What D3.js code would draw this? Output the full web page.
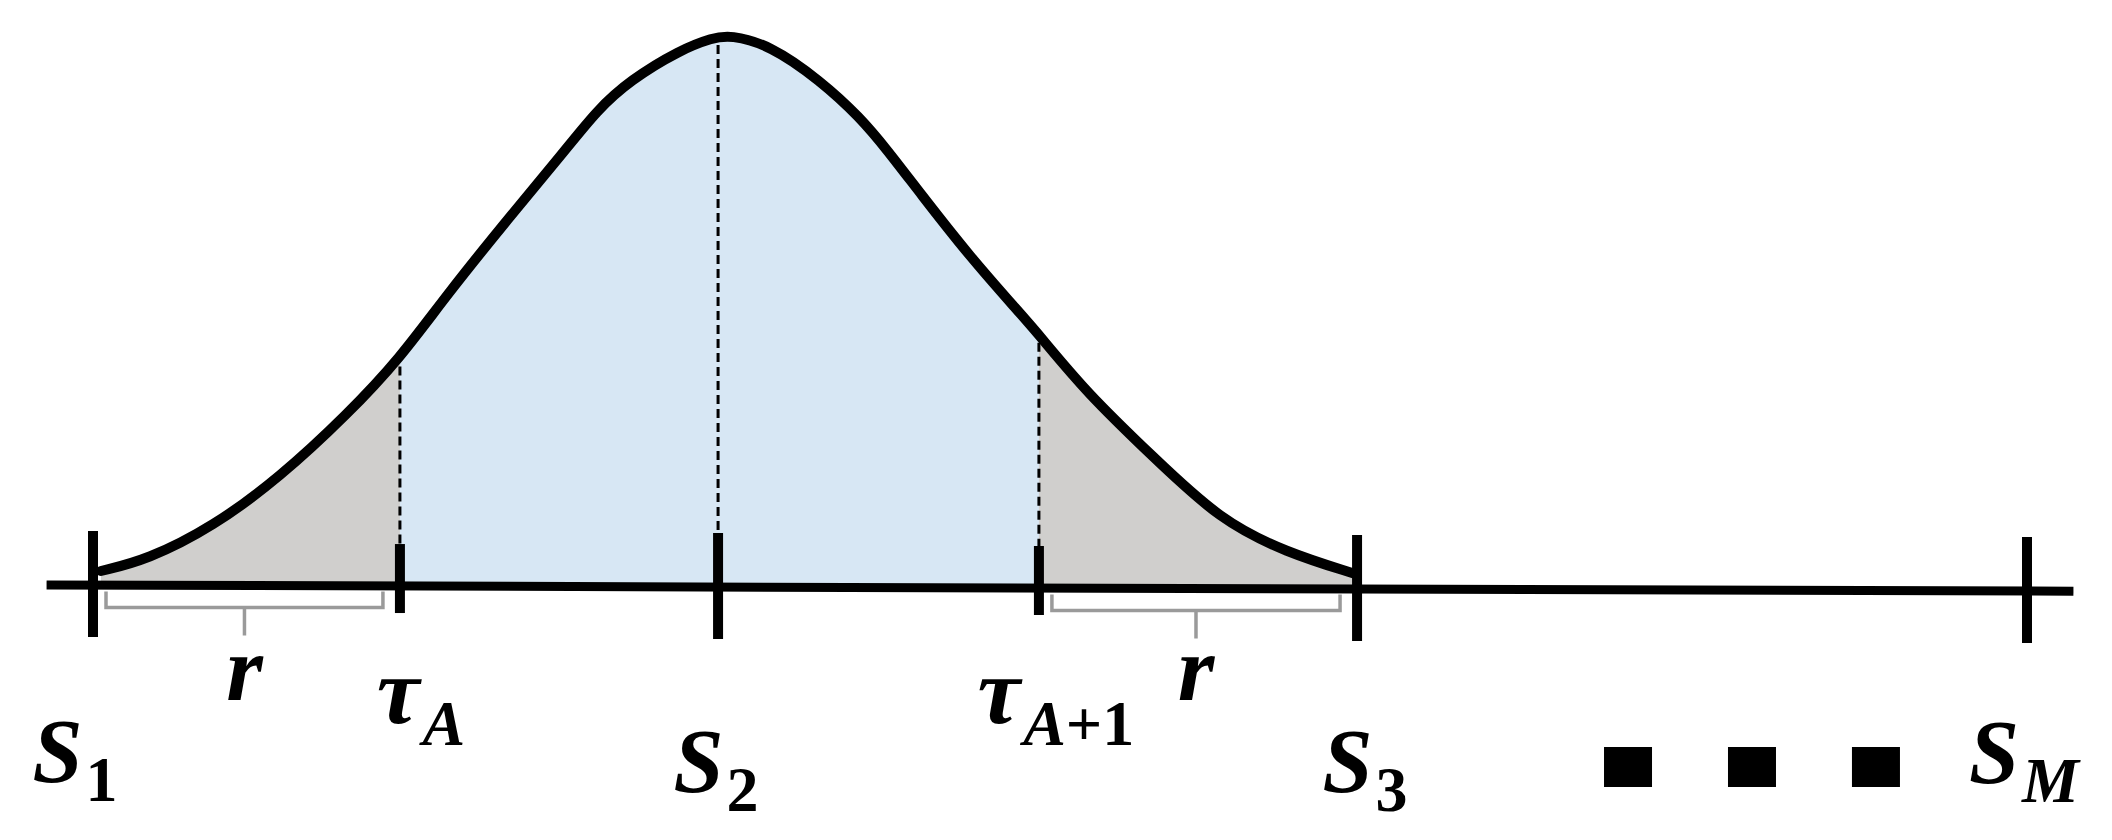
<!DOCTYPE html>
<html>
<head>
<meta charset="utf-8">
<script src="https://cdn.jsdelivr.net/npm/d3@7"></script>
<style>
    html, body { margin: 0; padding: 0; background: #fff; }
    svg { display: block; }
</style>
</head>
<body>
<svg id="viz"></svg>
<script>
// Distribuição entre S1 e S3, com caudas de largura r

// Posições ao longo da linha do tempo (S1 = 0, SM = 100)
const tickNames = ['S1', 'tauA', 'S2', 'tauA1', 'S3', 'SM'];
const tickPositions = [0, 15.87, 32.32, 48.91, 65.36, 100];
const tickKinds = ['major', 'minor', 'major', 'minor', 'major', 'major'];
const labelMain = ['S', 'τ', 'S', 'τ', 'S', 'S'];
const labelSub = ['1', 'A', '2', 'A+1', '3', 'M'];

// Linhas tracejadas da curva até o eixo
const dropLines = ['tauA', 'S2', 'tauA1'];

// Curva (densidade relativa ao pico)
const curveX = [0.41, 2.79, 6.20, 9.67, 13.13, 15.87, 18.30, 21.72, 24.30, 26.06, 27.77, 30.35,
    32.06, 32.94, 35.00, 37.59, 39.66, 41.06, 42.76, 45.35, 47.93, 48.91, 51.40, 54.81, 58.27, 61.74, 65.15];
const curveY = [0.029, 0.049, 0.109, 0.199, 0.312, 0.414, 0.530, 0.678, 0.786, 0.864, 0.918, 0.973,
    0.995, 1.000, 0.982, 0.918, 0.851, 0.792, 0.714, 0.598, 0.496, 0.457, 0.351, 0.236, 0.121, 0.062, 0.025];

// Chaves "r" abaixo do eixo
const bracketFrom = [0, 48.91];
const bracketTo = [15.87, 65.36];
const bracketLabel = ['r', 'r'];

// Reticências antes de SM
const ellipsisPositions = [79.37, 85.78, 92.19];

const axisExtent = [-2.4, 102.4];

const width = 2112;
const height = 840;
const font = "'Liberation Serif', 'Times New Roman', serif";

const x = d3.scaleLinear().domain([0, 100]).range([93, 2027]);
const y = d3.scaleLinear().domain([0, 1]).range([587, 35]);

// o eixo original é levemente inclinado
function axisY(v) {
    return y(0) + 6 * (v - 32) / 100;
}

const svg = d3.select('#viz')
    .attr('width', width)
    .attr('height', height);

const curve = curveX.map((d, i) => ({x: d, y: curveY[i]}));

function pos(name) {
    return tickPositions[tickNames.indexOf(name)];
}

function curveAt(v) {
    // valor da curva na posição v (para o topo das linhas tracejadas)
    const i = d3.bisector((d) => d.x).left(curve, v);
    if (i <= 0) return curve[0].y;
    if (i >= curve.length) return curve[curve.length - 1].y;
    const a = curve[i - 1], b = curve[i];
    return a.y + (b.y - a.y) * (v - a.x) / (b.x - a.x);
}

// Áreas

const area = d3.area()
    .x((d) => x(d.x))
    .y0((d) => axisY(d.x))
    .y1((d) => y(d.y))
    .curve(d3.curveBasis);

const defs = svg.append('defs');
const tails = [[pos('S1'), pos('tauA')], [pos('tauA1'), pos('S3')]];
defs.append('clipPath').attr('id', 'tails')
    .selectAll('rect')
    .data(tails)
    .enter()
    .append('rect')
    .attr('x', (d) => x(d[0]))
    .attr('y', 0)
    .attr('width', (d) => x(d[1]) - x(d[0]))
    .attr('height', height);

svg.append('path')
    .datum(curve)
    .attr('d', area)
    .attr('fill', '#d7e7f4');

svg.append('path')
    .datum(curve)
    .attr('d', area)
    .attr('fill', '#d0cfcd')
    .attr('clip-path', 'url(#tails)');

// Linhas tracejadas

const tickUp = {major: 54, minor: 42};
const tickDown = {major: 52, minor: 27};

svg.append('g')
    .selectAll('line')
    .data(dropLines)
    .enter()
    .append('line')
    .attr('x1', (d) => x(pos(d)))
    .attr('x2', (d) => x(pos(d)))
    .attr('y1', (d) => y(curveAt(pos(d))) + 8)
    .attr('y2', (d) => axisY(pos(d)) - tickUp[tickKinds[tickNames.indexOf(d)]])
    .attr('stroke', '#000')
    .attr('stroke-width', 3)
    .attr('stroke-dasharray', '9,5');

// Curva

svg.append('path')
    .datum(curve)
    .attr('d', d3.line().x((d) => x(d.x)).y((d) => y(d.y)).curve(d3.curveBasis))
    .attr('fill', 'none')
    .attr('stroke', '#000')
    .attr('stroke-width', 10)
    .attr('stroke-linejoin', 'round')
    .attr('stroke-linecap', 'round');

// Eixo e marcas

svg.append('line')
    .attr('x1', x(axisExtent[0]))
    .attr('x2', x(axisExtent[1]))
    .attr('y1', axisY(axisExtent[0]))
    .attr('y2', axisY(axisExtent[1]))
    .attr('stroke', '#000')
    .attr('stroke-width', 9);

svg.append('g')
    .selectAll('line')
    .data(tickPositions)
    .enter()
    .append('line')
    .attr('x1', (d) => x(d))
    .attr('x2', (d) => x(d))
    .attr('y1', (d, i) => axisY(d) - tickUp[tickKinds[i]])
    .attr('y2', (d, i) => axisY(d) + tickDown[tickKinds[i]])
    .attr('stroke', '#000')
    .attr('stroke-width', 10);

// Chaves

const brackets = bracketFrom.map((d, i) => ({from: d, to: bracketTo[i], label: bracketLabel[i]}));

function bracketMid(d) {
    return ((x(d.from) + 13) + (x(d.to) - 17)) / 2;
}

function bracketPath(d) {
    const x0 = x(d.from) + 13;
    const x1 = x(d.to) - 17;
    const xm = bracketMid(d);
    const top = axisY((d.from + d.to) / 2) + 6;
    const mid = top + 16;
    const path = d3.path();
    path.moveTo(x0, top);
    path.lineTo(x0, mid);
    path.lineTo(x1, mid);
    path.lineTo(x1, top);
    path.moveTo(xm, mid);
    path.lineTo(xm, mid + 28);
    return path.toString();
}

const bracket = svg.append('g')
    .selectAll('g')
    .data(brackets)
    .enter()
    .append('g');

bracket.append('path')
    .attr('d', bracketPath)
    .attr('fill', 'none')
    .attr('stroke', '#9a9a9a')
    .attr('stroke-width', 3.5);

bracket.append('text')
    .attr('x', bracketMid)
    .attr('y', 700)
    .attr('text-anchor', 'middle')
    .style('font-family', font)
    .style('font-weight', 'bold')
    .style('font-style', 'italic')
    .style('font-size', '94px')
    .text((d) => d.label);

// Rótulos

const labelNudge = {
    S1: [-18, 782],
    tauA: [21, 723],
    S2: [-2, 792],
    tauA1: [17, 723],
    S3: [8, 792],
    SM: [-3, 783]
};

const label = svg.append('g')
    .selectAll('text')
    .data(tickNames)
    .enter()
    .append('text')
    .attr('x', (d, i) => x(tickPositions[i]) + labelNudge[d][0])
    .attr('y', (d) => labelNudge[d][1])
    .attr('text-anchor', 'middle')
    .style('font-family', font)
    .style('font-weight', 'bold');

label.append('tspan')
    .style('font-style', 'italic')
    .style('font-size', (d, i) => labelMain[i] === 'τ' ? '96px' : '90px')
    .text((d, i) => labelMain[i]);

label.each(function(d, i) {
    const parts = labelSub[i].match(/[A-Za-z]+|[^A-Za-z]+/g);
    const t = d3.select(this);
    const shift = labelMain[i] === 'τ' ? 22 : 19;
    parts.forEach((p, k) => {
        t.append('tspan')
            .attr('dx', k === 0 ? 3 : 0)
            .attr('dy', k === 0 ? shift : 0)
            .style('font-size', '64px')
            .style('font-style', /[A-Za-z]/.test(p) ? 'italic' : 'normal')
            .text(p);
    });
});

// Reticências

svg.append('g')
    .selectAll('rect')
    .data(ellipsisPositions)
    .enter()
    .append('rect')
    .attr('x', (d) => x(d) - 24)
    .attr('y', 747)
    .attr('width', 48)
    .attr('height', 40)
    .attr('fill', '#000');
</script>
</body>
</html>
